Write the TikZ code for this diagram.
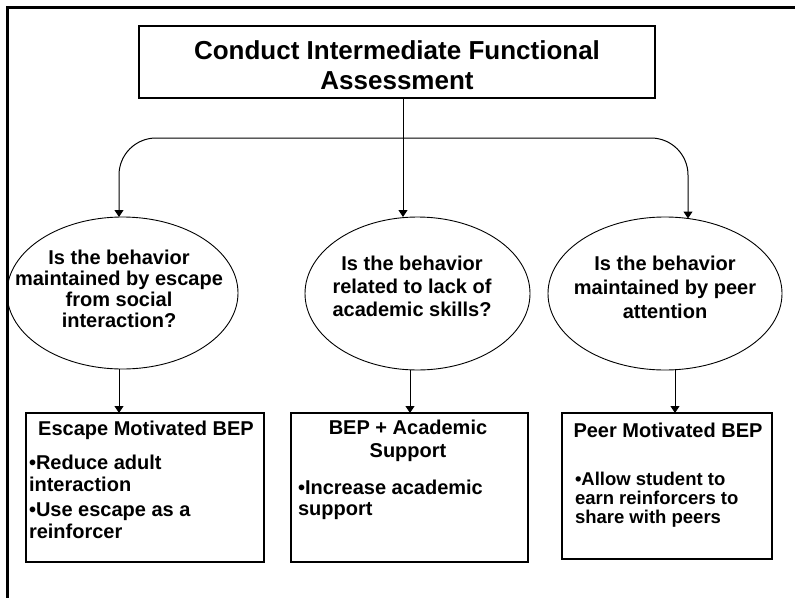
\documentclass[tikz,border=0pt]{standalone}
\usepackage{fontspec}
\setmainfont{Liberation Sans}
\usetikzlibrary{shapes.geometric,arrows.meta}
\begin{document}
\begin{tikzpicture}[x=1pt,y=-1pt,
  every node/.style={inner sep=0pt, outer sep=0pt},
  boxstyle/.style={draw=black, line width=1.3pt, rectangle},
  oval/.style={draw=black, line width=0.9pt, ellipse},
  link/.style={line width=1pt, -{Triangle[width=9pt,length=7pt]}},
  qtext/.style={font=\bfseries\fontsize{20}{#1}\selectfont, align=center},
  qtext/.default=22,
  htext/.style={font=\bfseries\fontsize{20}{#1}\selectfont, align=center},
  htext/.default=22,
  btext/.style={font=\bfseries\fontsize{20}{#1}\selectfont, align=left, anchor=west},
  btext/.default=22,
]
\useasboundingbox (0,0) rectangle (795,597);
\fill[white] (0,0) rectangle (795,597);

% page frame (left and top edges)
\draw[line width=3pt] (7,602) -- (7,7) -- (800,7);

% title box
\node[boxstyle, minimum width=516pt, minimum height=72pt] (title) at (397,62) {};
\node[font=\bfseries\fontsize{26}{30}\selectfont, align=center] (titletext) at (397,65)
  {Conduct Intermediate Functional\\Assessment};

% question ovals
\node[oval, minimum width=231pt, minimum height=152pt] (e1) at (122.5,293) {};
\node[oval, minimum width=225pt, minimum height=153pt] (e2) at (417.5,293.5) {};
\node[oval, minimum width=234pt, minimum height=153pt] (e3) at (665,293.5) {};

\node[qtext=21] (q1) at (119,288.5)
  {Is the behavior\\maintained by escape\\from social\\interaction?};
\node[qtext=23] (q2) at (412,286)
  {Is the behavior\\related to lack of\\academic skills?};
\node[qtext=24] (q3) at (665,287)
  {Is the behavior\\maintained by peer\\attention};

% intervention boxes
\node[boxstyle, minimum width=238pt, minimum height=149pt] (b1) at (145,487.5) {};
\node[boxstyle, minimum width=237pt, minimum height=149pt] (b2) at (409.5,487.5) {};
\node[boxstyle, minimum width=210pt, minimum height=146pt] (b3) at (667,486) {};

\node[htext] (h1) at (146,430) {Escape Motivated BEP};
\node[btext] (l1) at (29,497)
  {•Reduce adult\\interaction\\[3pt]•Use escape as a\\reinforcer};

\node[htext=23] (h2) at (408,441) {BEP + Academic\\Support};
\node[btext=21] (l2) at (298,499.5) {•Increase academic\\support};

\node[htext] (h3) at (668,430) {Peer Motivated BEP};
\node[font=\bfseries\fontsize{18.5}{19}\selectfont, align=left, anchor=west] (l3) at (575,500)
  {•Allow student to\\earn reinforcers to\\share with peers};

% connectors
\coordinate (hub) at (403,138);
\coordinate (xl) at (119,0);
\coordinate (xr) at (688,0);
\coordinate (xm) at (410,0);
\coordinate (xs) at (675,0);

\draw[link] (title.south -| hub) -- (e2.north -| hub);
\draw[link, rounded corners=37pt] (hub) -| (xl |- e1.north);
\draw[link, rounded corners=37pt] (hub) -| ([yshift=-1.5pt]xr |- e3.north);

\draw[link] (e1.south -| xl) -- (b1.north -| xl);
\draw[link] (e2.south -| xm) -- (b2.north -| xm);
\draw[link] ([yshift=1pt]e3.south -| xs) -- (b3.north -| xs);
\end{tikzpicture}
\end{document}
